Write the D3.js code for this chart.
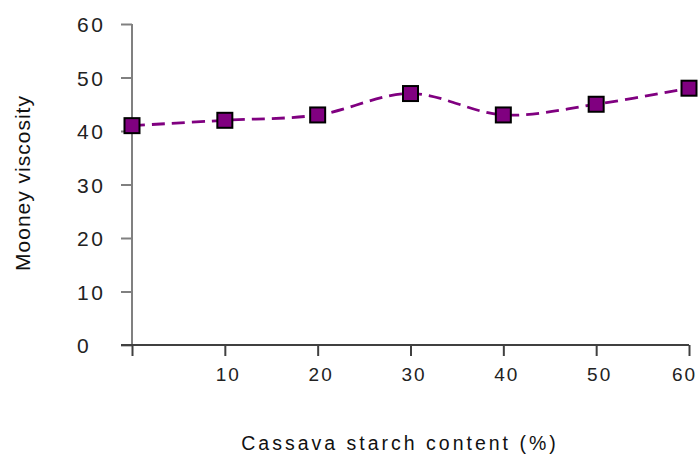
<!DOCTYPE html>
<html><head><meta charset="utf-8">
<script src="https://cdn.jsdelivr.net/npm/d3@7"></script>
<style>body{margin:0;background:#fff}svg{display:block}</style>
</head><body>
<script>
const xValues = [0, 10, 20, 30, 40, 50, 60];
const viscosity = [41, 42, 43, 47, 43, 45, 48];
const yTicks = [0, 10, 20, 30, 40, 50, 60];
const xTicks = [0, 10, 20, 30, 40, 50, 60];
const xTitle = "Cassava starch content (%)";
const yTitle = "Mooney viscosity";

const W = 699, H = 457;
const FF = "Liberation Sans, Arial, sans-serif";
const svg = d3.select("body").append("svg").attr("width", W).attr("height", H);
const x = d3.scaleLinear().domain([0, 60]).range([132, 689]);
const y = d3.scaleLinear().domain([0, 60]).range([345, 24]);

// y axis
const ya = svg.append("g").attr("transform", "translate(132,0)")
  .call(d3.axisLeft(y).tickValues(yTicks).tickSize(11).tickPadding(25));
ya.select(".domain").attr("stroke", "#808080").attr("stroke-width", 2).attr("d", `M0,${y(60)}V${y(0)}`);
ya.selectAll(".tick line").attr("stroke", "#808080").attr("stroke-width", 2);
ya.selectAll("text").attr("font-family", FF).attr("text-anchor", "start")
  .attr("font-size", 21).attr("fill", "#222").attr("letter-spacing", 2.5)
  .attr("x", -55).attr("dy", "0.36em");

// x axis
const xa = svg.append("g").attr("transform", `translate(0,${y(0)})`)
  .call(d3.axisBottom(x).tickValues(xTicks).tickSize(11).tickPadding(12).tickFormat(d => d === 0 ? "" : d));
xa.select(".domain").attr("stroke", "#404040").attr("stroke-width", 2).attr("d", `M121,0H${x(60)}`);
xa.selectAll(".tick line").attr("stroke", "#404040").attr("stroke-width", 2);
xa.selectAll("text").attr("font-family", FF)
  .attr("font-size", 19).attr("fill", "#222").attr("letter-spacing", 2)
  .attr("dx", d => d === 60 ? -5 : 3);

// line
const data = xValues.map((v, i) => ({x: v, y: viscosity[i]}));
svg.append("path").datum(data)
  .attr("fill", "none").attr("stroke", "#800080").attr("stroke-width", 2.8)
  .attr("stroke-dasharray", "13,7")
  .attr("d", d3.line().x(d => x(d.x)).y(d => y(d.y)).curve(d3.curveCatmullRom.alpha(0.5)));

// markers
const s = 15;
svg.selectAll("rect.m").data(data).join("rect").attr("class", "m")
  .attr("x", d => x(d.x) - s / 2).attr("y", d => y(d.y) - s / 2)
  .attr("width", s).attr("height", s)
  .attr("fill", "#800080").attr("stroke", "#000").attr("stroke-width", 2);

// titles
svg.append("text").attr("x", 400).attr("y", 450).attr("text-anchor", "middle")
  .attr("font-family", FF).attr("font-size", 19.5)
  .attr("letter-spacing", 3).attr("fill", "#111").text(xTitle);
svg.append("text").attr("transform", "translate(30,183) rotate(-90)").attr("text-anchor", "middle")
  .attr("font-family", FF).attr("font-size", 21).attr("letter-spacing", 1)
  .attr("fill", "#111").text(yTitle);
</script>
</body></html>
